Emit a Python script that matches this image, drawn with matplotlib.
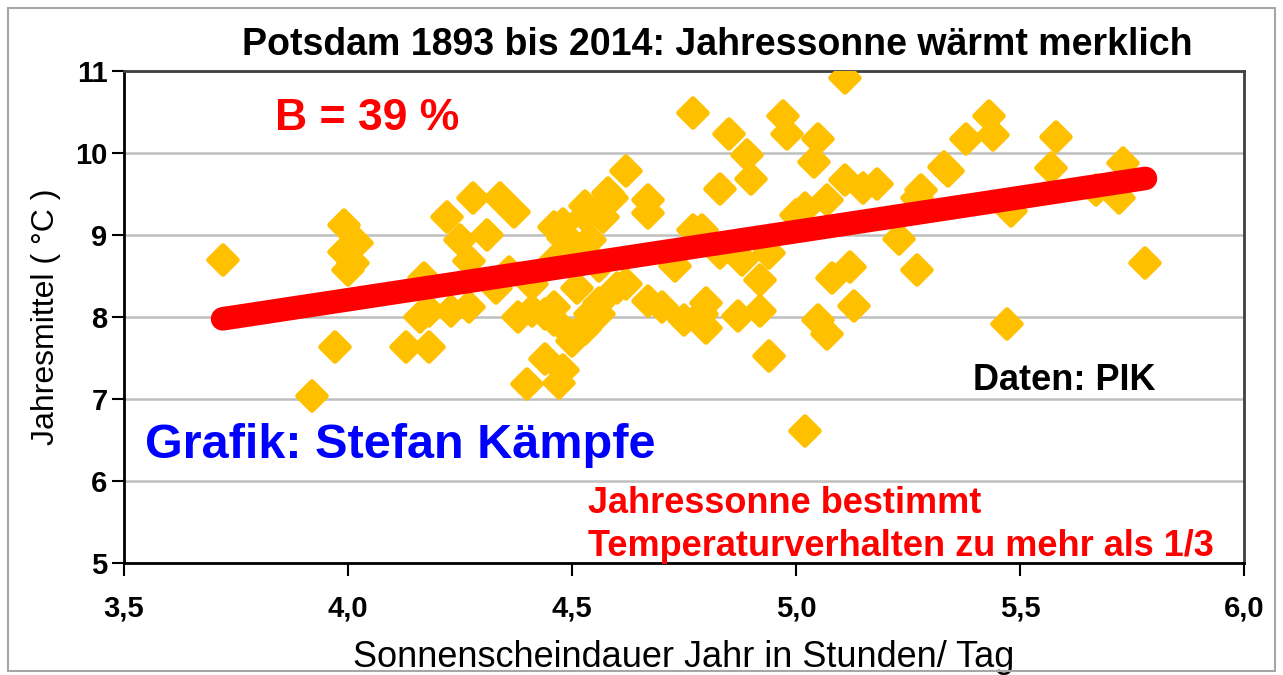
import matplotlib.pyplot as plt
import numpy as np
from matplotlib.markers import MarkerStyle
from matplotlib.patches import Rectangle

plt.rcParams['font.family'] = ['Liberation Sans', 'DejaVu Sans']

# Sonnenscheindauer (h/Tag) und Jahresmittel (°C)
sonne = [
    3.72, 3.92, 3.97, 3.99, 4.02, 3.99, 4.01, 4.00, 4.13, 4.18,
    4.16, 4.17, 4.18, 4.22, 4.28, 4.34, 4.37, 4.25, 4.31, 4.27,
    4.23, 4.27, 4.33, 4.38, 4.41, 4.44, 4.44, 4.48, 4.40, 4.47,
    4.50, 4.53, 4.56, 4.46, 4.46, 4.48, 4.48, 4.50, 4.54, 4.53,
    4.57, 4.58, 4.62, 4.67, 4.67, 4.51, 4.60, 4.56, 4.54, 4.52,
    4.50, 4.46, 4.67, 4.70, 4.75, 4.80, 4.79, 4.87, 4.92, 4.94,
    5.05, 5.07, 5.02, 5.13, 5.11, 4.77, 4.85, 4.97, 4.98, 5.05,
    5.04, 4.89, 4.90, 4.83, 5.11, 5.18, 5.07, 5.02, 5.23, 4.94,
    4.83, 4.92, 5.08, 5.12, 4.80, 4.77, 4.79, 4.73, 5.43, 5.44,
    5.38, 5.58, 5.33, 5.28, 5.57, 5.73, 5.72, 5.67, 5.48, 5.27,
    5.78, 5.47, 5.15, 5.34, 5.27, 5.00, 4.53, 4.56, 4.46, 4.41,
    4.49, 4.50, 4.59, 4.88, 4.62, 4.36,
]
temp = [
    8.70, 7.04, 7.64, 9.12, 8.91, 8.79, 8.66, 8.57, 7.63, 7.63,
    8.00, 8.48, 8.08, 9.22, 9.45, 9.45, 9.28, 8.94, 9.00, 8.69,
    8.08, 8.12, 8.36, 8.00, 8.08, 8.04, 7.49, 7.35, 7.19, 7.20,
    7.78, 7.86, 8.04, 7.96, 9.10, 9.14, 8.97, 8.90, 8.94, 9.36,
    9.22, 9.52, 9.79, 9.43, 9.27, 8.36, 8.36, 8.17, 8.04, 7.84,
    7.71, 8.12, 8.20, 8.12, 7.96, 7.87, 8.04, 8.02, 8.08, 7.53,
    7.96, 7.80, 6.61, 8.14, 10.92, 10.49, 10.24, 10.46, 10.24, 10.18,
    9.89, 9.98, 9.69, 9.57, 9.67, 9.63, 9.43, 9.33, 8.96, 8.78,
    8.78, 8.45, 8.48, 8.61, 8.17, 9.06, 9.06, 8.63, 10.46, 10.22,
    10.18, 10.20, 9.83, 9.55, 9.82, 9.88, 9.46, 9.55, 9.30, 8.57,
    8.66, 7.92, 9.58, 9.78, 9.45, 9.25, 9.24, 8.63, 8.69, 8.41,
    8.85, 8.75, 9.45, 8.70, 8.41, 8.55,
]

# lineare Trendlinie
trend_steigung = 0.832
trend_achse = 4.885

x_ticks = [3.5, 4.0, 4.5, 5.0, 5.5, 6.0]
x_tick_labels = ['3,5', '4,0', '4,5', '5,0', '5,5', '6,0']
y_ticks = [5, 6, 7, 8, 9, 10, 11]

fig = plt.figure(figsize=(12.83, 6.75), dpi=100)
ax = fig.add_axes([0.0967, 0.166, 0.8729, 0.7282])

# Rahmen um die ganze Grafik
fig.patches.append(Rectangle((0.006, 0.006), 0.988, 0.982, transform=fig.transFigure,
                             fill=False, edgecolor='#a6a6a6', linewidth=1.5))

raute = MarkerStyle('D', joinstyle='round')
ax.plot(sonne, temp, linestyle='none', marker=raute, markersize=14,
        color='#ffc000', markeredgecolor='#ffc000', markeredgewidth=4, zorder=3)

xt = np.array([min(sonne), max(sonne)])
ax.plot(xt, trend_achse + trend_steigung * xt, color='#ff0000', linewidth=17,
        solid_capstyle='round', zorder=4)

ax.set_xlim(3.5, 6.0)
ax.set_ylim(5, 11)
ax.set_xticks(x_ticks)
ax.set_xticklabels(x_tick_labels)
ax.set_yticks(y_ticks)
ax.yaxis.grid(True, color='#bfbfbf', linewidth=1.8)
ax.set_axisbelow(True)

for s in ['left', 'bottom']:
    ax.spines[s].set_linewidth(2)
    ax.spines[s].set_color('#000000')
for s in ['top', 'right']:
    ax.spines[s].set_linewidth(2)
    ax.spines[s].set_color('#404040')

ax.tick_params(axis='both', direction='out', length=9, width=1.5, labelsize=21)
ax.tick_params(axis='x', pad=14)
ax.tick_params(axis='y', pad=3)
for lab in ax.get_xticklabels() + ax.get_yticklabels():
    lab.set_fontweight('bold')

ax.set_xlabel('Sonnenscheindauer Jahr in Stunden/ Tag', fontsize=26, labelpad=12)
ax.set_ylabel('Jahresmittel ( °C )', fontsize=23, labelpad=10)

fig.text(0.559, 0.933, 'Potsdam 1893 bis 2014: Jahressonne wärmt merklich',
         ha='center', va='center', fontsize=27, fontweight='bold')

ax.text(0.135, 0.905, 'B = 39 %', transform=ax.transAxes, fontsize=32,
        fontweight='bold', color='#ff0000', va='center')
ax.text(0.019, 0.238, 'Grafik: Stefan Kämpfe', transform=ax.transAxes, fontsize=35,
        fontweight='bold', color='#0000ff', va='center')
ax.text(0.758, 0.372, 'Daten: PIK', transform=ax.transAxes, fontsize=26,
        fontweight='bold', color='#000000', va='center')
ax.text(0.414, 0.12, 'Jahressonne bestimmt', transform=ax.transAxes, fontsize=26,
        fontweight='bold', color='#ff0000', va='center')
ax.text(0.414, 0.033, 'Temperaturverhalten zu mehr als 1/3', transform=ax.transAxes,
        fontsize=26, fontweight='bold', color='#ff0000', va='center')

plt.savefig('out.png', dpi=100)
